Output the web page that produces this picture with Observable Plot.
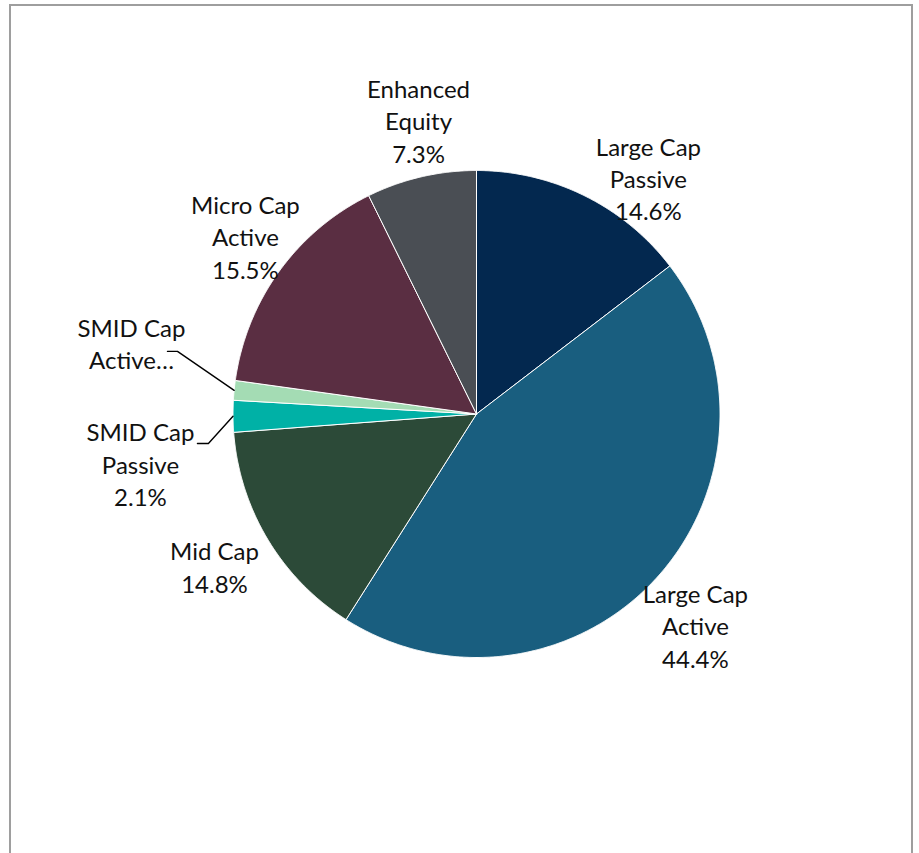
<!DOCTYPE html>
<html><head><meta charset="utf-8">
<script src="https://cdn.jsdelivr.net/npm/d3@7"></script>
<script src="https://cdn.jsdelivr.net/npm/@observablehq/plot@0.6"></script>
<style>
html,body{margin:0;padding:0;background:#fff;overflow:hidden}
#wrap{position:relative;width:919px;height:853px;overflow:hidden}
#frame{position:absolute;left:9px;top:4px;width:904px;height:900px;box-sizing:border-box;border:2px solid #9e9e9e;pointer-events:none}
</style></head><body>
<div id="wrap"><div id="chart"></div><div id="frame"></div></div>
<script>
// ---- data ----
const categories = ["Large Cap Passive", "Large Cap Active", "Mid Cap", "SMID Cap Passive", "SMID Cap Active", "Micro Cap Active", "Enhanced Equity"];
const values = [14.6, 44.4, 14.8, 2.1, 1.3, 15.5, 7.3];
const labels = ["Large Cap\nPassive\n14.6%", "Large Cap\nActive\n44.4%", "Mid Cap\n14.8%", "SMID Cap\nPassive\n2.1%", "SMID Cap\nActive…", "Micro Cap\nActive\n15.5%", "Enhanced\nEquity\n7.3%"];
const colors = ["#03284f", "#195e7f", "#2c4a38", "#00b1a6", "#a4dcb4", "#5a2e42", "#4a4e54"];

// ---- layout (in pie-radius units, relative to pie centre) ----
const W = 919, H = 853, CX = 476, CY = 413.5, R = 243.5;
const labelPos = [[0.706, -0.971], [0.899, 0.867], [-1.076, 0.625], [-1.380, 0.202], [-1.417, -0.292], [-0.949, -0.731], [-0.238, -1.207]];
const leaderElbows = {
  "SMID Cap Passive": [[-1.146, 0.121], [-1.101, 0.121]],
  "SMID Cap Active": [[-1.269, -0.257], [-1.228, -0.257]]
};

const arcs = d3.pie().sort(null).value(d => d)(values);

const slicePts = [];
arcs.forEach((a, i) => {
  const name = categories[i];
  slicePts.push({name, x: 0, y: 0});
  const n = Math.max(2, Math.ceil((a.endAngle - a.startAngle) / 0.004));
  for (let k = 0; k <= n; k++) {
    const t = a.startAngle + (a.endAngle - a.startAngle) * k / n;
    slicePts.push({name, x: Math.sin(t), y: -Math.cos(t)});
  }
  slicePts.push({name, x: 0, y: 0});
});

const leaderPts = [];
arcs.forEach((a, i) => {
  const name = categories[i];
  const el = leaderElbows[name];
  if (!el) return;
  const m = (a.startAngle + a.endAngle) / 2;
  el.forEach(p => leaderPts.push({name, x: p[0], y: p[1]}));
  leaderPts.push({name, x: Math.sin(m), y: -Math.cos(m)});
});

const labelData = categories.map((c, i) => ({name: c, text: labels[i], x: labelPos[i][0], y: labelPos[i][1]}));

const chart = Plot.plot({
  width: W, height: H, margin: 0,
  x: {domain: [-CX / R, (W - CX) / R], range: [0, W], axis: null},
  y: {domain: [-CY / R, (H - CY) / R], range: [0, H], axis: null},
  color: {domain: categories, range: colors},
  style: {background: "#fff"},
  marks: [
    Plot.line(slicePts, {x: "x", y: "y", z: "name", fill: "name", stroke: "#ffffff", strokeWidth: 1, strokeLinejoin: "round", curve: "linear"}),
    Plot.line(leaderPts, {x: "x", y: "y", z: "name", stroke: "#000", strokeWidth: 1.4, curve: "linear"}),
    Plot.text(labelData, {x: "x", y: "y", text: "text", fontSize: 24, lineHeight: 1.35, lineAnchor: "middle", textAnchor: "middle", fill: "#111", fontFamily: "Lato"})
  ]
});
document.getElementById("chart").appendChild(chart);
</script>
</body></html>
